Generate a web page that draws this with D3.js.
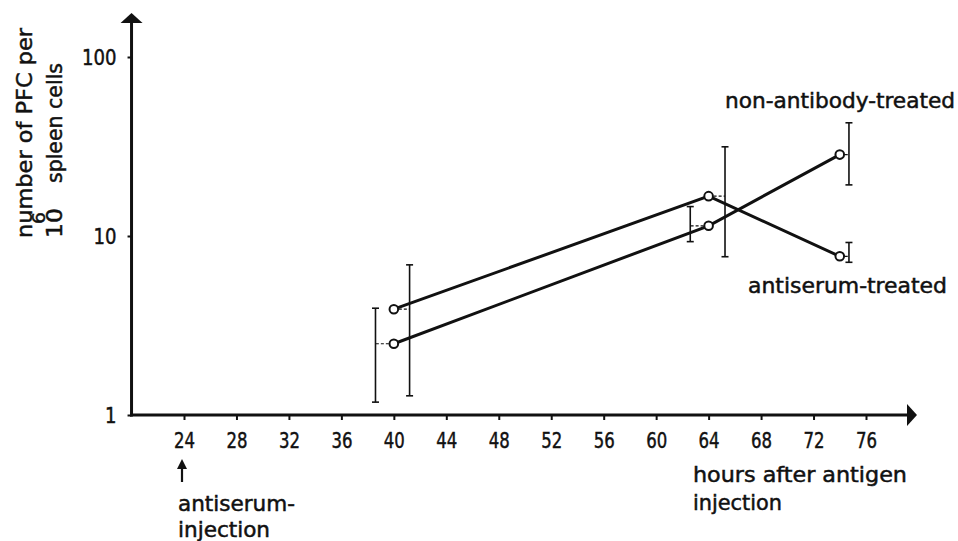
<!DOCTYPE html>
<html>
<head>
<meta charset="utf-8">
<script src="https://cdn.jsdelivr.net/npm/d3@7"></script>
<style>
  html, body { margin: 0; padding: 0; background: #fff; }
  svg { display: block; }
  text { font-family: "DejaVu Sans Condensed", "DejaVu Sans", sans-serif; fill: #111; stroke: #111; stroke-width: 0.45px; }
</style>
</head>
<body>
<svg id="chart" width="958" height="541"></svg>
<script>
// ---- data ----
const hours = [40, 64, 74];
const nonAntibody = [2.5, 11.4, 28.5];
const nonAntibodyLow = [1.18, 9.3, 19.3];
const nonAntibodyHigh = [3.95, 14.6, 42.9];
const nonAntibodyErrHour = [38.6, 62.6, 74.7];
const antiserum = [3.9, 16.7, 7.7];
const antiserumLow = [1.28, 7.66, 7.13];
const antiserumHigh = [6.9, 31.5, 9.2];
const antiserumErrHour = [41.2, 65.25, 74.7];
const xTicks = [24, 28, 32, 36, 40, 44, 48, 52, 56, 60, 64, 68, 72, 76];
const yTicks = [1, 10, 100];

// ---- layout ----
const svg = d3.select("#chart");
const x = d3.scaleLinear().domain([24, 76]).range([184, 866]);
const y = d3.scaleLog().domain([1, 100]).range([415, 57]);
const x0 = x(20), yAxisTop = 13, xAxisEnd = 917;
const ink = "#111";

// axes lines
svg.append("line").attr("x1", x0).attr("x2", x0).attr("y1", y(1) + 1.5).attr("y2", 22)
  .attr("stroke", ink).attr("stroke-width", 3);
svg.append("path").attr("d", `M${x0 - 11},${23} L${x0},${yAxisTop} L${x0 + 11},${23} Z`).attr("fill", ink);
svg.append("line").attr("x1", x0 - 1.5).attr("x2", 908).attr("y1", y(1)).attr("y2", y(1))
  .attr("stroke", ink).attr("stroke-width", 3);
svg.append("path").attr("d", `M907,${y(1) - 11} L${xAxisEnd},${y(1)} L907,${y(1) + 11} Z`).attr("fill", ink);

// x axis ticks via d3 axis
const xAxis = d3.axisBottom(x).tickValues(xTicks).tickSize(5).tickPadding(14).tickFormat(d3.format("d"));
const gx = svg.append("g").attr("transform", `translate(0,${y(1)})`).call(xAxis);
gx.select(".domain").remove();
gx.selectAll(".tick line").attr("stroke", ink).attr("stroke-width", 2);
gx.selectAll(".tick text").attr("font-size", 22).attr("fill", ink).attr("dy", 0).attr("y", 33)
  .attr("font-family", "DejaVu Sans Condensed, DejaVu Sans, sans-serif")
  .attr("textLength", d => String(d).length * 10.5).attr("lengthAdjust", "spacingAndGlyphs");

// y axis ticks
const yAxis = d3.axisLeft(y).tickValues(yTicks).tickSize(4).tickPadding(11).tickFormat(d3.format("d"));
const gy = svg.append("g").attr("transform", `translate(${x0},0)`).call(yAxis);
gy.select(".domain").remove();
gy.selectAll(".tick line").attr("stroke", ink).attr("stroke-width", 2);
gy.selectAll(".tick text").attr("font-size", 22).attr("fill", ink).attr("dy", "0.36em")
  .attr("font-family", "DejaVu Sans Condensed, DejaVu Sans, sans-serif")
  .attr("textLength", d => String(d).length * 11.5).attr("lengthAdjust", "spacingAndGlyphs");

// series
const series = [
  { v: nonAntibody, lo: nonAntibodyLow, hi: nonAntibodyHigh, eh: nonAntibodyErrHour },
  { v: antiserum, lo: antiserumLow, hi: antiserumHigh, eh: antiserumErrHour }
];
const line = d3.line().x((d, i) => x(hours[i])).y(d => y(d));

series.forEach(s => {
  s.v.forEach((v, i) => {
    const ex = x(s.eh[i]);
    svg.append("line").attr("x1", ex).attr("x2", ex).attr("y1", y(s.lo[i])).attr("y2", y(s.hi[i]))
      .attr("stroke", ink).attr("stroke-width", 1.6);
    [s.lo[i], s.hi[i]].forEach(e => {
      svg.append("line").attr("x1", ex - 3.5).attr("x2", ex + 3.5).attr("y1", y(e)).attr("y2", y(e))
        .attr("stroke", ink).attr("stroke-width", 1.6);
    });
    svg.append("line").attr("x1", x(hours[i])).attr("x2", ex).attr("y1", y(v)).attr("y2", y(v))
      .attr("stroke", ink).attr("stroke-width", 1.2).attr("stroke-dasharray", "3,2");
  });
  svg.append("path").datum(s.v).attr("d", line).attr("fill", "none")
    .attr("stroke", ink).attr("stroke-width", 3);
});
series.forEach(s => {
  svg.selectAll(null).data(s.v).enter().append("circle")
    .attr("cx", (d, i) => x(hours[i])).attr("cy", d => y(d)).attr("r", 4.3)
    .attr("fill", "#fff").attr("stroke", ink).attr("stroke-width", 2);
});

// labels
function label(t, xx, yy, len, size) {
  svg.append("text").attr("x", xx).attr("y", yy).attr("font-size", size || 21)
    .attr("textLength", len).attr("lengthAdjust", "spacingAndGlyphs").text(t);
}
label("non-antibody-treated", 725, 108, 230);
label("antiserum-treated", 748, 293, 199);
label("hours after antigen", 693, 482, 214);
label("injection", 693, 510, 89);
label("antiserum-", 178, 511, 117);
label("injection", 178, 537, 92);

// arrow at 24
const ax = x(24) - 2;
svg.append("line").attr("x1", ax).attr("x2", ax).attr("y1", 466).attr("y2", 482)
  .attr("stroke", ink).attr("stroke-width", 2.2);
svg.append("path").attr("d", `M${ax - 5},${469} L${ax},${459} L${ax + 5},${469} Z`).attr("fill", ink);

// y axis title
function vtext(t, bx, by, len, size) {
  svg.append("text").attr("transform", `translate(${bx},${by}) rotate(-90)`)
    .attr("font-size", size).attr("textLength", len).attr("lengthAdjust", "spacingAndGlyphs").text(t);
}
vtext("number of PFC per", 32, 238, 210, 21);
vtext("10", 62, 238, 30, 21);
vtext("6", 45, 224, 12, 17);
vtext("spleen cells", 62, 183, 120, 21);
</script>
</body>
</html>
